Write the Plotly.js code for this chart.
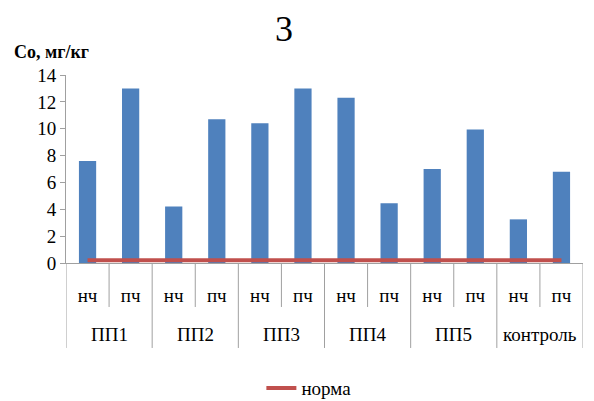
<!DOCTYPE html>
<html>
<head>
<meta charset="utf-8">
<script src="https://cdn.plot.ly/plotly-3.0.1.min.js"></script>
<style>html,body{margin:0;padding:0;background:#fff;}#chart{width:594px;height:401px;}</style>
</head>
<body>
<div id="chart"></div>
<script>
const groups = ["ПП1","ПП1","ПП2","ПП2","ПП3","ПП3","ПП4","ПП4","ПП5","ПП5","контроль","контроль"];
const parts = ["нч","пч","нч","пч","нч","пч","нч","пч","нч","пч","нч","пч"];
const coValues = [7.6, 13.0, 4.2, 10.7, 10.4, 13.0, 12.3, 4.45, 7.0, 9.95, 3.25, 6.8];
const normValues = [0.2,0.2,0.2,0.2,0.2,0.2,0.2,0.2,0.2,0.2,0.2,0.2];
const yTicks = [0,2,4,6,8,10,12,14];

const idx = parts.map((_, i) => i);
const groupNames = [];
const groupCenters = [];
const groupEdges = [-0.5];
const innerEdges = [];
groups.forEach((g, i) => {
  if (i === groups.length - 1 || groups[i + 1] !== g) {
    const start = groups.indexOf(g);
    groupNames.push(g);
    groupCenters.push((start + i) / 2);
    groupEdges.push(i + 0.5);
  } else {
    innerEdges.push(i + 0.5);
  }
});

const font = "Liberation Serif, Times New Roman, serif";
const lineCol = "#A0A0A0";
const traces = [
  {type:"bar", x:idx, y:coValues, width:0.4, marker:{color:"#4F81BD"}, showlegend:false, name:"Co"},
  {type:"scatter", mode:"lines", x:idx, y:normValues, line:{color:"#C0504D", width:4}, name:"норма"}
];
const shapes = groupEdges.map(e => ({type:"line", xref:"x", yref:"paper", x0:e, x1:e, y0:0, y1:-0.452,
  line:{color:lineCol, width:1}})).concat(
  innerEdges.map(e => ({type:"line", xref:"x", yref:"paper", x0:e, x1:e, y0:0, y1:-0.234,
  line:{color:lineCol, width:1}})));
const annotations = groupNames.map((g, k) => ({text:g, xref:"x", yref:"paper", x:groupCenters[k], y:-0.378,
  xanchor:"center", yanchor:"middle", showarrow:false, font:{size:19, family:font, color:"#000"}}));
annotations.push({text:"<b>Co, мг/кг</b>", xref:"paper", yref:"paper", x:-0.105, y:1.122, xanchor:"left", yanchor:"middle",
  showarrow:false, font:{size:18, family:font, color:"#000"}});

const layout = {
  width:594, height:401,
  margin:{l:66, r:11, t:75, b:138},
  paper_bgcolor:"#fff", plot_bgcolor:"#fff",
  font:{family:font, color:"#000"},
  title:{text:"3", font:{size:36, family:font, color:"#000"}, x:0.478, xanchor:"center", y:0.93, yanchor:"middle"},
  xaxis:{range:[-0.5, 11.5], tickvals:idx, ticktext:parts, ticks:"", ticklabelstandoff:15,
    showline:true, linecolor:lineCol, linewidth:1,
    tickfont:{size:19, family:font, color:"#000"}, showgrid:false, zeroline:false},
  yaxis:{range:[0,14], tickvals:yTicks, ticks:"outside", ticklen:5, tickcolor:lineCol,
    showline:true, linecolor:lineCol, linewidth:1, showgrid:false, zeroline:false,
    tickfont:{size:19, family:font, color:"#000"}},
  showlegend:true,
  legend:{orientation:"h", xref:"container", yref:"container", x:0.52, xanchor:"center", y:0.032, yanchor:"middle",
    font:{size:19, family:font, color:"#000"}},
  shapes: shapes,
  annotations: annotations
};
Plotly.newPlot("chart", traces, layout, {displayModeBar:false, staticPlot:true});
</script>
</body>
</html>
